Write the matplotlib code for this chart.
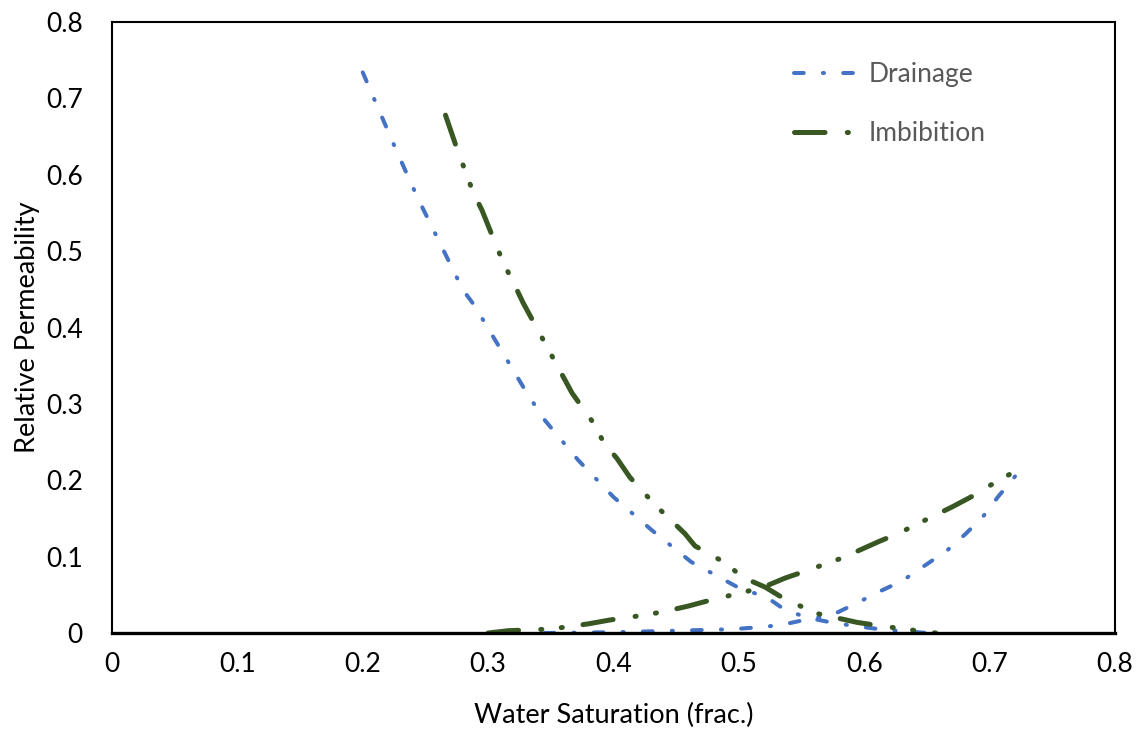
import matplotlib
matplotlib.use("Agg")
import matplotlib.pyplot as plt

plt.rcParams['font.family'] = ['Lato', 'DejaVu Sans']
plt.rcParams['lines.scale_dashes'] = False

# drainage curves (oil and water relative permeability)
drain_sw_o = [0.200, 0.211, 0.227, 0.244, 0.262, 0.280, 0.289, 0.331, 0.345, 0.372, 0.400,
              0.431, 0.462, 0.499, 0.523, 0.537, 0.555, 0.576, 0.598, 0.617, 0.643, 0.650]
drain_kro = [0.734, 0.692, 0.631, 0.569, 0.509, 0.449, 0.429, 0.314, 0.279, 0.226, 0.178,
             0.134, 0.093, 0.060, 0.046, 0.030, 0.020, 0.013, 0.008, 0.004, 0.001, 0.0]
drain_sw_w = [0.345, 0.400, 0.450, 0.495, 0.520, 0.535, 0.555, 0.575, 0.595, 0.613, 0.630,
              0.648, 0.666, 0.681, 0.695, 0.707, 0.718, 0.726]
drain_krw = [0.0, 0.001, 0.003, 0.005, 0.008, 0.011, 0.018, 0.024, 0.040, 0.055, 0.068,
             0.088, 0.108, 0.130, 0.153, 0.179, 0.200, 0.218]

# imbibition curves
imb_sw_o = [0.266, 0.276, 0.282, 0.288, 0.295, 0.307, 0.313, 0.321, 0.328, 0.367, 0.384,
            0.392, 0.403, 0.413, 0.433, 0.445, 0.457, 0.465, 0.489, 0.503, 0.521, 0.534,
            0.561, 0.594, 0.610, 0.642, 0.657]
imb_kro = [0.678, 0.630, 0.604, 0.577, 0.554, 0.505, 0.482, 0.456, 0.432, 0.314, 0.275,
           0.250, 0.228, 0.204, 0.168, 0.149, 0.130, 0.114, 0.092, 0.073, 0.060, 0.047,
           0.026, 0.014, 0.010, 0.003, 0.0]
imb_sw_w = [0.300, 0.316, 0.348, 0.363, 0.380, 0.397, 0.427, 0.443, 0.459, 0.475, 0.505,
            0.518, 0.537, 0.553, 0.582, 0.597, 0.612, 0.628, 0.655, 0.670, 0.685, 0.699, 0.726]
imb_krw = [0.0, 0.003, 0.005, 0.008, 0.012, 0.017, 0.024, 0.029, 0.035, 0.042, 0.054,
           0.059, 0.072, 0.081, 0.098, 0.109, 0.120, 0.131, 0.153, 0.165, 0.178, 0.192, 0.217]

xticks = [0, 0.1, 0.2, 0.3, 0.4, 0.5, 0.6, 0.7, 0.8]
xlabels = ['0', '0.1', '0.2', '0.3', '0.4', '0.5', '0.6', '0.7', '0.8']
yticks = xticks
ylabels = xlabels

blue = '#4472C4'
green = '#385723'
drain_dash = (0, (7.0, 13.8, 0.8, 13.8))
imb_dash = (0, (22, 16, 0.8, 14, 0.8, 15))

fig = plt.figure(figsize=(11.39, 7.29), dpi=100)
ax = fig.add_axes([112/1139, 96/729, 1003/1139, 611/729])

ax.plot(drain_sw_o, drain_kro, color=blue, lw=2.9, linestyle=drain_dash,
        dash_capstyle='round', label='Drainage')
ax.plot(drain_sw_w, drain_krw, color=blue, lw=2.9, linestyle=drain_dash,
        dash_capstyle='round')
ax.plot(imb_sw_o, imb_kro, color=green, lw=3.6, linestyle=imb_dash,
        dash_capstyle='round', label='Imbibition')
ax.plot(imb_sw_w, imb_krw, color=green, lw=3.6, linestyle=imb_dash,
        dash_capstyle='round')

ax.set_xlim(0, 0.8)
ax.set_ylim(0, 0.8)
ax.set_xticks(xticks, xlabels)
ax.set_yticks(yticks, ylabels)
ax.tick_params(length=0, labelsize=19)
ax.tick_params(axis='y', pad=21)
ax.tick_params(axis='x', pad=14)

for s in ['top', 'right', 'left']:
    ax.spines[s].set_linewidth(1.5)
ax.spines['bottom'].set_linewidth(2.4)

ax.set_xlabel('Water Saturation (frac.)', fontsize=19.5, labelpad=18)
ax.set_ylabel('Relative Permeability', fontsize=19.5, labelpad=4)

leg = ax.legend(loc='upper left', bbox_to_anchor=(0.669, 0.951), frameon=False,
                fontsize=19, handlelength=2.8, handletextpad=0.05, labelspacing=1.28,
                borderaxespad=0)
for t in leg.get_texts():
    t.set_color('#595959')

fig.savefig('out.png', dpi=100)
